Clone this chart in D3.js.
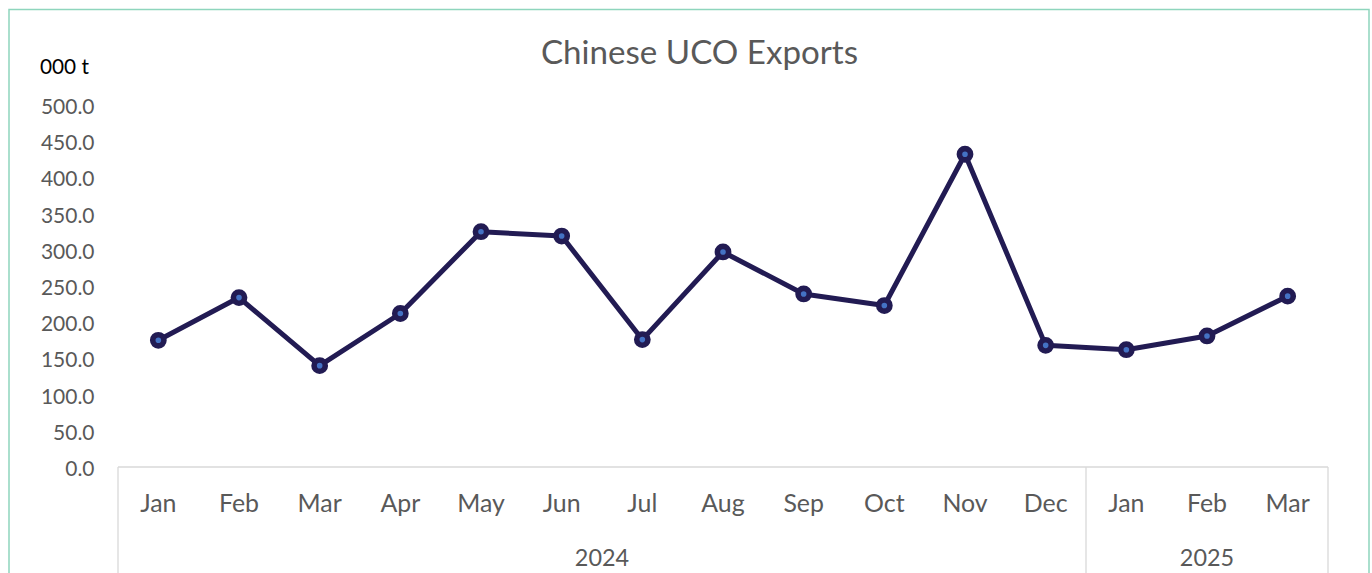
<!DOCTYPE html>
<html>
<head>
<meta charset="utf-8">
<script src="https://cdn.jsdelivr.net/npm/d3@7"></script>
<style>
  html, body { margin: 0; padding: 0; background: #fff; }
  svg { display: block; }
  text { font-family: Lato, "Open Sans", "DejaVu Sans", sans-serif; }
</style>
</head>
<body>
<svg id="chart" width="1372" height="573"></svg>
<script>
// ---- data ----
const months = ["Jan","Feb","Mar","Apr","May","Jun","Jul","Aug","Sep","Oct","Nov","Dec","Jan","Feb","Mar"];
const years = ["2024","2025"];
const yearCounts = [12, 3];
const exportsKt = [175, 234, 140, 212, 325, 319, 176, 297, 239, 223, 432, 168, 162, 181, 236];
const yTicks = [0, 50, 100, 150, 200, 250, 300, 350, 400, 450, 500];
const titleText = "Chinese UCO Exports";
const unitText = "000 t";

(function () {
const svg = d3.select("#chart");
const W = 1372, H = 573;
const plotL = 118, plotR = 1328, plotT = 105, plotB = 467;

// border
svg.append("rect").attr("x", 9).attr("y", 9.5).attr("width", 1360).attr("height", 600)
  .attr("fill", "none").attr("stroke", "#8ed5bd").attr("stroke-width", 1.5);

const idx = months.map((m, i) => i);
const x = d3.scaleBand().domain(idx).range([plotL, plotR]).padding(0);
const y = d3.scaleLinear().domain([0, 500]).range([plotB, plotT]);

function fit(sel, target) {
  const w = sel.node().getComputedTextLength();
  const fs = parseFloat(sel.attr("font-size"));
  return fs * target / w;
}

// title
const title = svg.append("text").attr("x", 699.5).attr("y", 64).attr("text-anchor", "middle")
  .attr("fill", "#595959").attr("font-size", 30).text(titleText);
title.attr("font-size", fit(title, 317));

// unit label
const unit = svg.append("text").attr("x", 40).attr("y", 74).attr("fill", "#000")
  .attr("font-size", 20).text(unitText);
unit.attr("font-size", fit(unit, 49));

// y axis (labels only)
const yAxis = d3.axisLeft(y).tickValues(yTicks).tickFormat(d3.format(".1f")).tickSize(0).tickPadding(0);
const gy = svg.append("g").attr("transform", "translate(94.5,0)").call(yAxis);
gy.select(".domain").remove();
gy.selectAll("text").attr("fill", "#595959").attr("font-size", 20).attr("dy", "0.36em")
  .attr("font-family", "Lato, 'Open Sans', sans-serif");
const t500 = gy.selectAll("text").filter(d => d === 500);
const yfs = fit(t500, 53.6);
gy.selectAll("text").attr("font-size", yfs).attr("transform", "translate(0,1)");

// x axis: baseline + category labels
const axisColor = "#d9d9d9";
svg.append("line").attr("x1", plotL).attr("x2", plotR).attr("y1", plotB).attr("y2", plotB)
  .attr("stroke", axisColor).attr("stroke-width", 1.3);

// group separators
let acc = 0;
const bounds = [0];
yearCounts.forEach(c => { acc += c; bounds.push(acc); });
bounds.forEach(b => {
  const xx = b < months.length ? x(b) : plotR;
  svg.append("line").attr("x1", xx).attr("x2", xx).attr("y1", plotB).attr("y2", H)
    .attr("stroke", axisColor).attr("stroke-width", 1.3);
});

const gx = svg.append("g");
const mLabels = gx.selectAll("text.m").data(idx).join("text").attr("class", "m")
  .attr("x", d => x(d) + x.bandwidth() / 2).attr("y", 512).attr("text-anchor", "middle")
  .attr("fill", "#595959").attr("font-size", 20).text(d => months[d]);
const janNode = mLabels.filter(d => d === 0);
const mfs = fit(janNode, 36.3);
mLabels.attr("font-size", mfs);

const yearData = years.map((yv, i) => ({ label: yv, start: bounds[i], end: bounds[i + 1] }));
const yLabels = gx.selectAll("text.y").data(yearData).join("text").attr("class", "y")
  .attr("x", d => (x(d.start) + (d.end < months.length ? x(d.end) : plotR)) / 2)
  .attr("y", 566).attr("text-anchor", "middle").attr("fill", "#595959").attr("font-size", 20)
  .text(d => d.label);
const yrfs = fit(yLabels.filter((d, i) => i === 0), 54.3);
yLabels.attr("font-size", yrfs);

// line
const cx = i => x(i) + x.bandwidth() / 2;
const lineGen = d3.line().x((d, i) => cx(i)).y(d => y(d));
svg.append("path").datum(exportsKt).attr("d", lineGen).attr("fill", "none")
  .attr("stroke", "#221b53").attr("stroke-width", 5).attr("stroke-linejoin", "round");

svg.selectAll("circle.pt").data(exportsKt).join("circle").attr("class", "pt")
  .attr("cx", (d, i) => cx(i)).attr("cy", d => y(d)).attr("r", 5.6)
  .attr("fill", "#4472c4").attr("stroke", "#221b53").attr("stroke-width", 5.6);
})();
</script>
</body>
</html>
